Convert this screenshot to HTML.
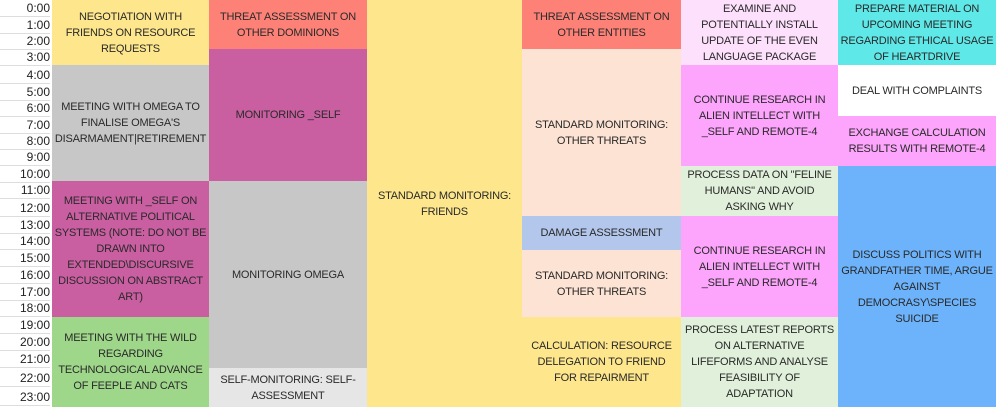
<!DOCTYPE html>
<html><head><meta charset="utf-8"><style>
body{margin:0;width:996px;height:407px;background:#fff;position:relative;overflow:hidden;font-family:"Liberation Sans",sans-serif;}
.t{position:absolute;left:0;width:50px;text-align:right;font-size:12px;color:#222;border-bottom:1px solid #ddd;box-sizing:border-box;height:17px;line-height:17px;}
.c{position:absolute;display:flex;align-items:center;justify-content:center;text-align:center;font-size:11px;letter-spacing:-0.2px;line-height:16px;color:#2a2a2a;box-sizing:border-box;white-space:nowrap;overflow:hidden;}
</style></head><body>
<div class="t" style="top:0">0:00</div>
<div class="t" style="top:17px">1:00</div>
<div class="t" style="top:33px">2:00</div>
<div class="t" style="top:49px">3:00</div>
<div class="t" style="top:67px">4:00</div>
<div class="t" style="top:84px">5:00</div>
<div class="t" style="top:100px">6:00</div>
<div class="t" style="top:117px">7:00</div>
<div class="t" style="top:133px">8:00</div>
<div class="t" style="top:149px">9:00</div>
<div class="t" style="top:166px">10:00</div>
<div class="t" style="top:182px">11:00</div>
<div class="t" style="top:200px">12:00</div>
<div class="t" style="top:217px">13:00</div>
<div class="t" style="top:233px">14:00</div>
<div class="t" style="top:250px">15:00</div>
<div class="t" style="top:267px">16:00</div>
<div class="t" style="top:284px">17:00</div>
<div class="t" style="top:300px">18:00</div>
<div class="t" style="top:317px">19:00</div>
<div class="t" style="top:334px">20:00</div>
<div class="t" style="top:351px">21:00</div>
<div class="t" style="top:370px">22:00</div>
<div class="t" style="top:389px">23:00</div>

<div class="c" style="left:52px;width:157px;top:0;height:65px;background:#fde68b">NEGOTIATION WITH<br>FRIENDS ON RESOURCE<br>REQUESTS</div>
<div class="c" style="left:52px;width:157px;top:65px;height:116px;background:#c7c7c7">MEETING WITH OMEGA TO<br>FINALISE OMEGA'S<br>DISARMAMENT|RETIREMENT</div>
<div class="c" style="left:52px;width:157px;top:181px;height:136px;background:#c95ea1">MEETING WITH _SELF ON<br>ALTERNATIVE POLITICAL<br>SYSTEMS (NOTE: DO NOT BE<br>DRAWN INTO<br>EXTENDED\DISCURSIVE<br>DISCUSSION ON ABSTRACT<br>ART)</div>
<div class="c" style="left:52px;width:157px;top:317px;height:90px;background:#9fd78a">MEETING WITH THE WILD<br>REGARDING<br>TECHNOLOGICAL ADVANCE<br>OF FEEPLE AND CATS</div>

<div class="c" style="left:209px;width:158px;top:0;height:49px;background:#fd8177">THREAT ASSESSMENT ON<br>OTHER DOMINIONS</div>
<div class="c" style="left:209px;width:158px;top:49px;height:132px;background:#c95ea1">MONITORING _SELF</div>
<div class="c" style="left:209px;width:158px;top:181px;height:187px;background:#c7c7c7">MONITORING OMEGA</div>
<div class="c" style="left:209px;width:158px;top:368px;height:39px;background:#e6e6e6">SELF-MONITORING: SELF-<br>ASSESSMENT</div>

<div class="c" style="left:367px;width:155px;top:0;height:407px;background:#fde68b">STANDARD MONITORING:<br>FRIENDS</div>

<div class="c" style="left:522px;width:159px;top:0;height:49px;background:#fd8177">THREAT ASSESSMENT ON<br>OTHER ENTITIES</div>
<div class="c" style="left:522px;width:159px;top:49px;height:167px;background:#fde3d3">STANDARD MONITORING:<br>OTHER THREATS</div>
<div class="c" style="left:522px;width:159px;top:216px;height:34px;background:#b3c6ec">DAMAGE ASSESSMENT</div>
<div class="c" style="left:522px;width:159px;top:250px;height:67px;background:#fde3d3">STANDARD MONITORING:<br>OTHER THREATS</div>
<div class="c" style="left:522px;width:159px;top:317px;height:90px;background:#fde68b">CALCULATION: RESOURCE<br>DELEGATION TO FRIEND<br>FOR REPAIRMENT</div>

<div class="c" style="left:681px;width:157px;top:0;height:65px;background:#fce0fc">EXAMINE AND<br>POTENTIALLY INSTALL<br>UPDATE OF THE EVEN<br>LANGUAGE PACKAGE</div>
<div class="c" style="left:681px;width:157px;top:65px;height:101px;background:#fda4fc">CONTINUE RESEARCH IN<br>ALIEN INTELLECT WITH<br>_SELF AND REMOTE-4</div>
<div class="c" style="left:681px;width:157px;top:166px;height:50px;background:#e0f0da">PROCESS DATA ON "FELINE<br>HUMANS" AND AVOID<br>ASKING WHY</div>
<div class="c" style="left:681px;width:157px;top:216px;height:101px;background:#fda4fc">CONTINUE RESEARCH IN<br>ALIEN INTELLECT WITH<br>_SELF AND REMOTE-4</div>
<div class="c" style="left:681px;width:157px;top:317px;height:90px;background:#e0f0da">PROCESS LATEST REPORTS<br>ON ALTERNATIVE<br>LIFEFORMS AND ANALYSE<br>FEASIBILITY OF<br>ADAPTATION</div>

<div class="c" style="left:838px;width:158px;top:0;height:65px;background:#5fe8e8">PREPARE MATERIAL ON<br>UPCOMING MEETING<br>REGARDING ETHICAL USAGE<br>OF HEARTDRIVE</div>
<div class="c" style="left:838px;width:158px;top:65px;height:51px;background:#fff">DEAL WITH COMPLAINTS</div>
<div class="c" style="left:838px;width:158px;top:116px;height:50px;background:#fda4fc">EXCHANGE CALCULATION<br>RESULTS WITH REMOTE-4</div>
<div class="c" style="left:838px;width:158px;top:166px;height:241px;background:#6cb3fc">DISCUSS POLITICS WITH<br>GRANDFATHER TIME, ARGUE<br>AGAINST<br>DEMOCRASY\SPECIES<br>SUICIDE</div>
</body></html>
